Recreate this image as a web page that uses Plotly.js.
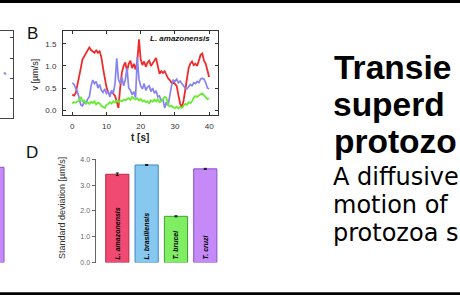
<!DOCTYPE html>
<html>
<head>
<meta charset="utf-8">
<script src="https://cdn.plot.ly/plotly-3.0.1.min.js"></script>
<style>html,body{margin:0;padding:0;background:#fff;}#chart{width:460px;height:295px;}</style>
</head>
<body>
<div id="chart"></div>
<script>
// ---- Panel B: velocity time series (L. amazonensis) ----
const tSec = [
  0,0.5,1,1.5,2,2.5,3,3.5,4,4.5,
  5,5.5,6,6.5,7,7.5,8,8.5,9,9.5,
  10,10.5,11,11.5,12,12.5,13,13.5,14,14.5,
  15,15.5,16,16.5,17,17.5,18,18.5,19,19.5,
  20,20.5,21,21.5,22,22.5,23,23.5,24,24.5,
  25,25.5,26,26.5,27,27.5,28,28.5,29,29.5,
  30,30.5,31,31.5,32,32.5,33,33.5,34,34.5,
  35,35.5,36,36.5,37,37.5,38,38.5,39,39.5,
  40];
const vRed = [
  0.35,0.33,0.38,0.55,0.75,0.95,1.15,1.22,1.30,1.38,
  1.42,1.36,1.32,1.30,1.35,1.30,1.33,1.20,0.95,0.70,
  0.52,0.40,0.35,0.42,0.36,0.32,0.20,0.05,0.50,0.85,
  1.00,1.08,0.88,1.05,1.12,0.95,1.05,0.92,1.10,1.60,
  1.15,1.02,1.10,0.98,1.08,1.12,1.00,1.05,1.12,1.18,
  0.95,0.82,0.88,0.84,0.88,0.80,0.72,0.68,0.62,0.64,
  0.60,0.55,0.35,0.15,0.06,0.20,0.45,0.75,0.95,1.05,
  1.10,1.02,1.05,1.00,1.15,1.25,1.28,1.12,1.05,0.90,
  0.75];
const vBlue = [
  0.62,0.58,0.50,0.42,0.28,0.12,0.10,0.18,0.15,0.25,
  0.30,0.55,0.68,0.60,0.65,0.50,0.58,0.45,0.40,0.48,
  0.38,0.42,0.30,0.45,0.38,0.60,1.17,0.70,0.60,0.75,
  0.55,0.68,0.95,0.50,0.45,0.35,0.42,0.28,1.20,0.70,
  0.55,0.48,0.60,0.45,0.52,0.55,0.42,0.50,0.38,0.44,
  0.30,0.32,0.20,0.25,0.05,0.18,0.10,0.35,0.55,0.68,
  0.65,0.70,0.62,0.66,0.60,0.57,0.50,0.48,0.52,0.58,
  0.55,0.62,0.60,0.65,0.62,0.70,0.72,0.70,0.62,0.50,
  0.48];
const vGreen = [
  0.15,0.18,0.17,0.20,0.22,0.30,0.20,0.22,0.15,0.18,
  0.14,0.19,0.16,0.20,0.13,0.17,0.15,0.10,0.07,0.05,
  0.12,0.14,0.18,0.15,0.20,0.17,0.21,0.18,0.22,0.20,
  0.24,0.22,0.25,0.27,0.23,0.30,0.26,0.24,0.27,0.22,
  0.25,0.20,0.22,0.18,0.20,0.16,0.22,0.19,0.24,0.20,
  0.25,0.18,0.20,0.26,0.30,0.28,0.12,0.08,0.10,0.06,
  0.05,0.08,0.04,0.07,0.05,0.10,0.14,0.12,0.18,0.16,
  0.20,0.28,0.32,0.30,0.34,0.36,0.38,0.33,0.28,0.25,
  0.27];
const bTickX = [0, 10, 20, 30, 40];
const bTickY = [0, 0.5, 1.0, 1.5];
const bTickYText = ['0.0', '0.5', '1.0', '1.5'];

// ---- Panel D: standard deviation per species ----
const species = ['L. amazonensis', 'L. brasiliensis', 'T. brucei', 'T. cruzi'];
const sdMean = [3.42, 3.78, 1.79, 3.63];
const sdErr = [0.05, 0.02, 0.02, 0.02];
const dTickY = [0, 1, 2, 3, 4];
const dTickYText = ['0.0', '1.0', '2.0', '3.0', '4.0'];

// ---- cropped fragments of neighbouring panels (A and C) ----
const aFragX = [0.30, 0.40, 0.46];
const aFragY = [1.30, 1.20, 1.28];
const cFragX = [0];
const cFragY = [3.69];

// ---- visible (cropped) headline text ----
const titleLines = ['Transie', 'superd', 'protozo'];
const bodyLines = ['A diffusive', 'motion of', 'protozoa s'];

const FONT = 'Liberation Sans, Arial, Helvetica, sans-serif';
const W = 460, H = 295;
const px = v => v / W;
const py = v => 1 - v / H;

const traces = [
  {type:'scatter', mode:'lines', x:tSec, y:vRed, xaxis:'x', yaxis:'y',
   line:{color:'#f02a2a', width:1.8}, hoverinfo:'skip'},
  {type:'scatter', mode:'lines', x:tSec, y:vBlue, xaxis:'x', yaxis:'y',
   line:{color:'#8684f0', width:1.7}, hoverinfo:'skip'},
  {type:'scatter', mode:'lines', x:tSec, y:vGreen, xaxis:'x', yaxis:'y',
   line:{color:'#66ec30', width:1.8}, hoverinfo:'skip'},
  {type:'bar', x:[0,1,2,3], y:sdMean, xaxis:'x2', yaxis:'y2', width:0.79,
   text:species, textposition:'inside', insidetextanchor:'start', textangle:-90,
   constraintext:'none',
   textfont:{family:FONT, size:7, color:'#000', weight:'bold', style:'italic'},
   marker:{color:['#f04a72','#86c8f0','#80ee62','#c589f8'],
           line:{color:['#b82848','#3c86c4','#40a030','#8c50c8'], width:1}},
   error_y:{type:'data', array:sdErr, color:'#111', thickness:1, width:1.5},
   hoverinfo:'skip'},
  {type:'scatter', mode:'lines', x:aFragX, y:aFragY, xaxis:'x3', yaxis:'y3',
   line:{color:'#8684f0', width:1.4}, hoverinfo:'skip'},
  {type:'bar', x:cFragX, y:cFragY, xaxis:'x4', yaxis:'y4', width:0.8,
   marker:{color:'#c589f8', line:{color:'#8c50c8', width:1}}, hoverinfo:'skip'}
];

const titleCenters = [67.4, 104.4, 141.4];
const titleLefts = [332, 331, 331.5];
const bodyCenters = [176.7, 205, 233.4];

const annotations = [
  {text:'B', xref:'paper', yref:'paper', x:px(25), y:py(34), xanchor:'left', yanchor:'middle',
   showarrow:false, font:{family:FONT, size:17, color:'#111'}},
  {text:'D', xref:'paper', yref:'paper', x:px(24), y:py(152.5), xanchor:'left', yanchor:'middle',
   showarrow:false, font:{family:FONT, size:17, color:'#111'}},
  {text:'L. amazonensis', xref:'paper', yref:'paper', x:px(212), y:py(38.5), xanchor:'right',
   yanchor:'middle', showarrow:false,
   font:{family:FONT, size:8, color:'#111', weight:'bold', style:'italic'}},
  {text:'v [µm/s]', xref:'paper', yref:'paper', x:px(34.5), y:py(75), textangle:-90,
   xanchor:'center', yanchor:'middle', showarrow:false, font:{family:FONT, size:9, color:'#222'}},
  {text:'t [s]', xref:'paper', yref:'paper', x:px(140), y:py(137), xanchor:'center',
   yanchor:'middle', showarrow:false, font:{family:FONT, size:10, color:'#222', weight:'bold'}},
  {text:'Standard deviation [µm/s]', xref:'paper', yref:'paper', x:px(62), y:py(208),
   textangle:-90, xanchor:'center', yanchor:'middle', showarrow:false,
   font:{family:FONT, size:9, color:'#333'}}
];
titleLines.forEach((s, i) => annotations.push(
  {text:s, xref:'paper', yref:'paper', x:px(titleLefts[i]), y:py(titleCenters[i]), xanchor:'left',
   yanchor:'middle', showarrow:false, font:{family:FONT, size:33.5, color:'#000', weight:'bold'}}));
bodyLines.forEach((s, i) => annotations.push(
  {text:s, xref:'paper', yref:'paper', x:px(331), y:py(bodyCenters[i]), xanchor:'left',
   yanchor:'middle', showarrow:false, font:{family:'DejaVu Sans', size:24, color:'#000'}}));

const layout = {
  width:W, height:H, margin:{l:0, r:0, t:0, b:0},
  paper_bgcolor:'#ffffff', plot_bgcolor:'rgba(0,0,0,0)', showlegend:false,
  font:{family:FONT, color:'#333'},
  xaxis:{domain:[px(63), px(217.7)], range:[-2.7, 42.5], anchor:'y',
         tickvals:bTickX, ticks:'inside', ticklen:3, tickcolor:'#333', mirror:'ticks',
         showline:true, linecolor:'#333', linewidth:1, showgrid:false, zeroline:false,
         tickfont:{size:8, color:'#333'}, ticklabelstandoff:3},
  yaxis:{domain:[py(115), py(31)], range:[-0.11, 1.79], anchor:'x',
         tickvals:bTickY, ticktext:bTickYText, ticks:'inside', ticklen:3, tickcolor:'#333',
         mirror:'ticks', showline:true, linecolor:'#333', linewidth:1, showgrid:false,
         zeroline:false, tickfont:{size:8, color:'#333'}, ticklabelstandoff:4},
  xaxis2:{domain:[px(95.5), px(222.9)], range:[-0.743, 3.6], anchor:'y2', visible:false},
  yaxis2:{domain:[py(262.5), py(159.3)], range:[0, 4], anchor:'x2',
          tickvals:dTickY, ticktext:dTickYText, ticks:'outside', ticklen:3, tickcolor:'#666',
          showline:true, linecolor:'#666', linewidth:1, showgrid:false, zeroline:false,
          tickfont:{size:7, color:'#666'}},
  xaxis3:{domain:[0, px(13)], range:[0, 1], anchor:'y3', showline:true, mirror:true,
          linecolor:'#444', linewidth:1, ticks:'', showticklabels:false, showgrid:false, zeroline:false},
  yaxis3:{domain:[py(118.3), py(30.7)], range:[-0.95, 3.34], anchor:'x3', side:'right',
          showline:true, linecolor:'#444', linewidth:1, ticks:'inside', ticklen:3, tickcolor:'#444',
          tickvals:[0,1,2,3], showticklabels:false, showgrid:false, zeroline:false},
  xaxis4:{domain:[0, px(12)], range:[0.3, 0.6], anchor:'y4', visible:false},
  yaxis4:{domain:[py(262.5), py(159.3)], range:[0, 4], anchor:'x4', visible:false},
  shapes:[
    {type:'rect', xref:'paper', yref:'paper', x0:0, x1:1, y0:py(3), y1:1.02,
     fillcolor:'#000', line:{width:0}},
    {type:'rect', xref:'paper', yref:'paper', x0:0, x1:1, y0:-0.02, y1:py(292.3),
     fillcolor:'#000', line:{width:0}}
  ],
  annotations:annotations
};

Plotly.newPlot('chart', traces, layout, {staticPlot:true, displayModeBar:false});
</script>
</body>
</html>
